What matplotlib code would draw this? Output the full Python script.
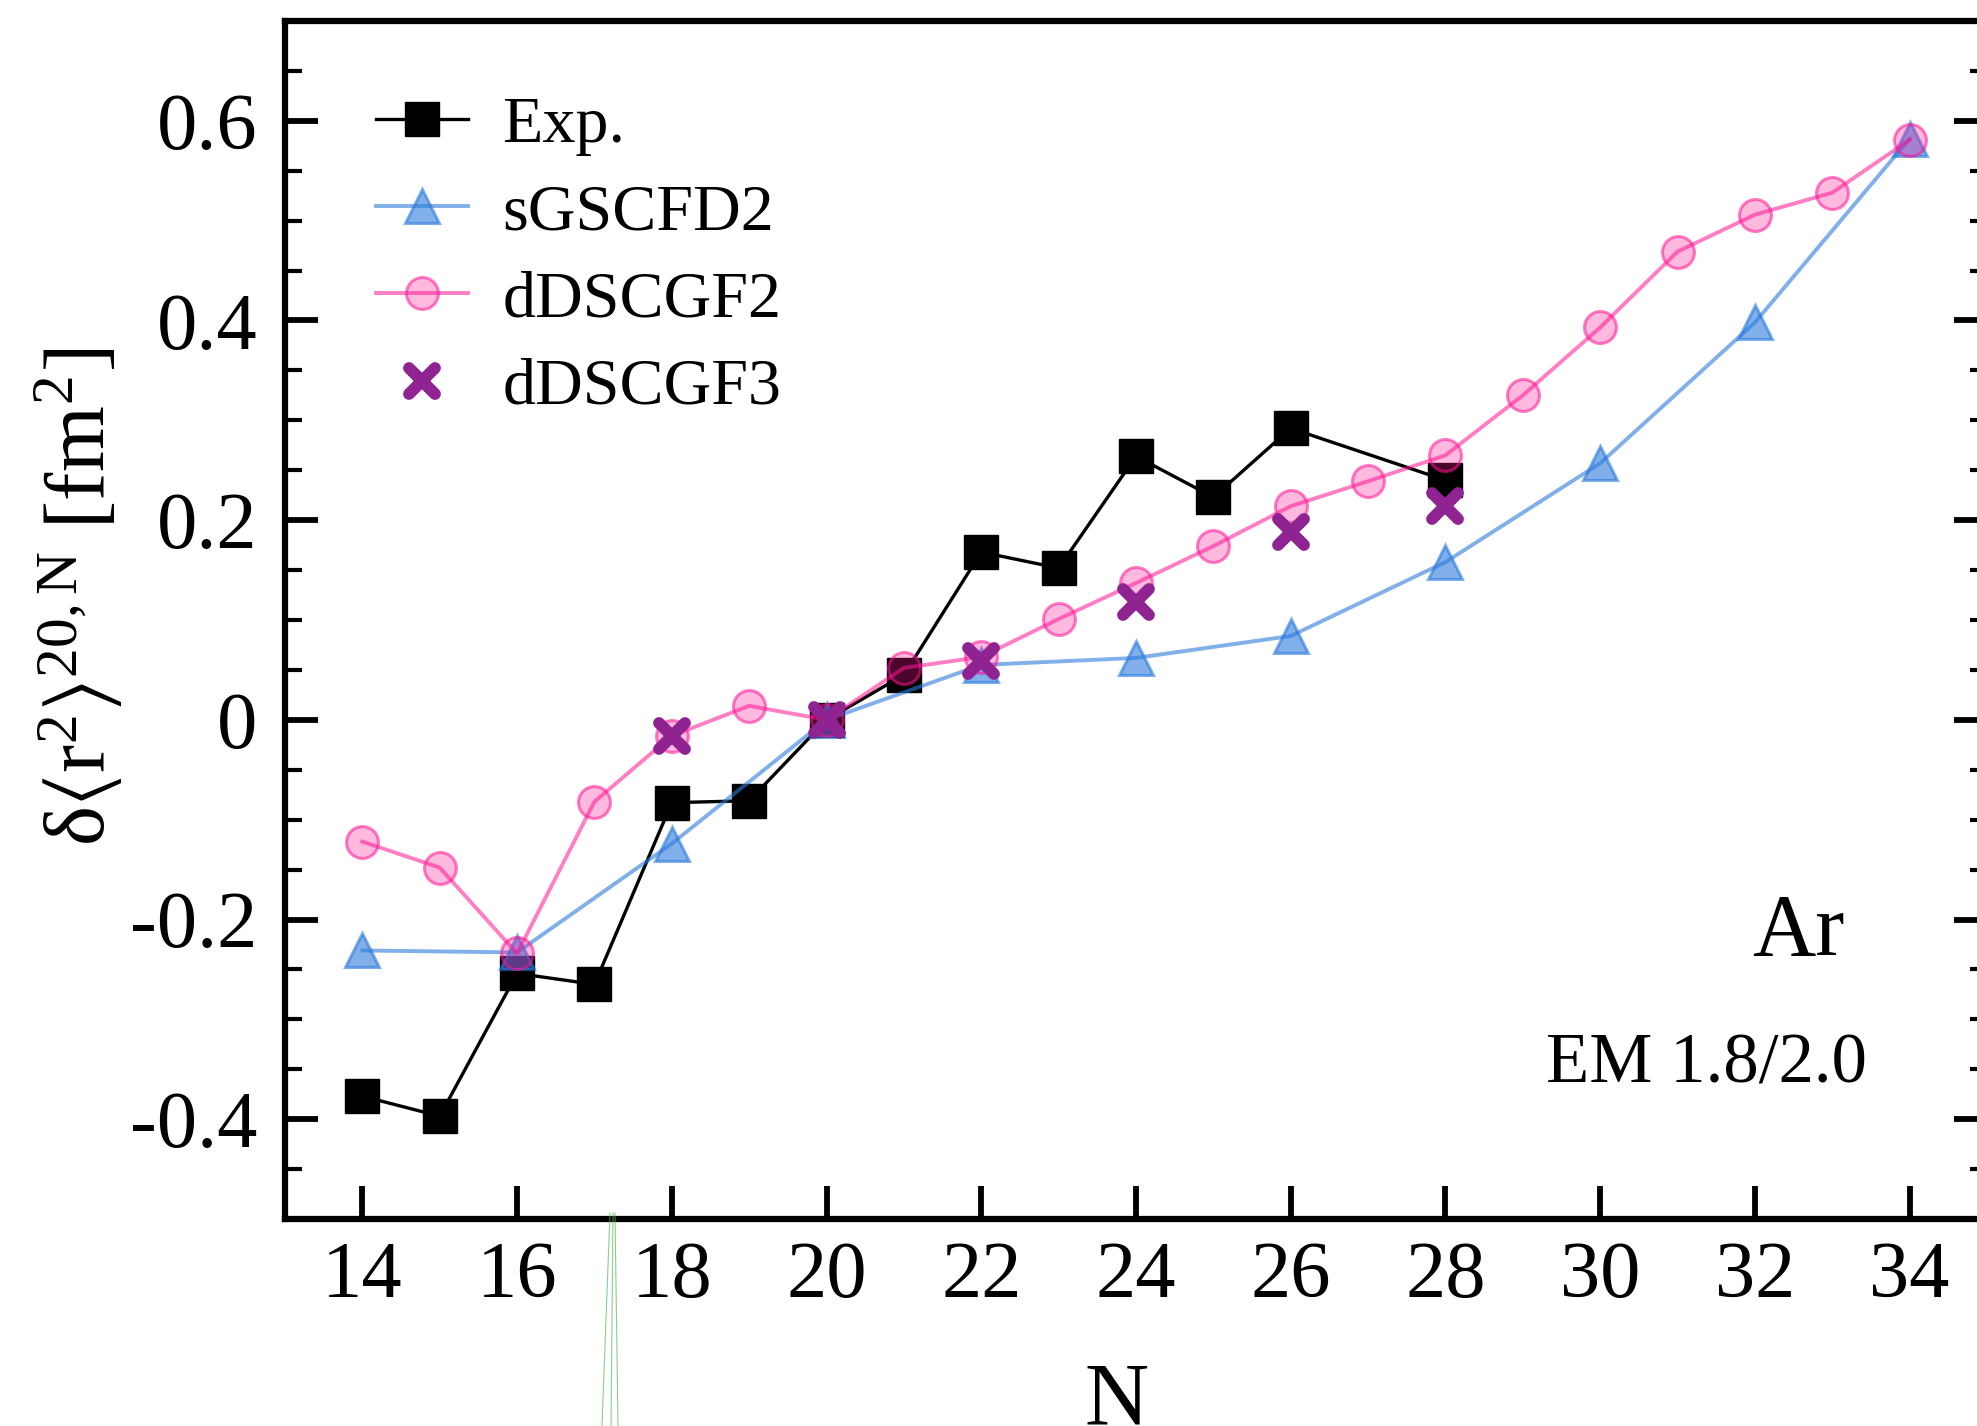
import matplotlib
matplotlib.use("Agg")
import matplotlib.pyplot as plt
from matplotlib.lines import Line2D
from matplotlib.markers import MarkerStyle
from matplotlib.ticker import MultipleLocator, FixedLocator, FuncFormatter

plt.rcParams['font.family'] = ['Liberation Serif', 'DejaVu Serif']
plt.rcParams['mathtext.fontset'] = 'stix'
plt.rcParams['axes.unicode_minus'] = False

# Neutron numbers and charge-radius differences relative to N = 20
N_exp = [14, 15, 16, 17, 18, 19, 20, 21, 22, 23, 24, 25, 26, 28]
exp_vals = [-0.377, -0.397, -0.254, -0.265, -0.083, -0.081, 0.0, 0.045,
            0.168, 0.152, 0.264, 0.223, 0.292, 0.240]

N_sgs = [14, 16, 18, 20, 22, 24, 26, 28, 30, 32, 34]
sgs_vals = [-0.231, -0.233, -0.124, 0.0, 0.055, 0.062, 0.084, 0.158,
            0.257, 0.398, 0.582]

N_d2 = [14, 15, 16, 17, 18, 19, 20, 21, 22, 23, 24, 25, 26, 27, 28, 29,
        30, 31, 32, 33, 34]
d2_vals = [-0.122, -0.148, -0.234, -0.082, -0.016, 0.014, 0.0, 0.052,
           0.063, 0.101, 0.137, 0.174, 0.214, 0.239, 0.265, 0.325, 0.393,
           0.469, 0.506, 0.528, 0.581]

N_d3 = [18, 20, 22, 24, 26, 28]
d3_vals = [-0.016, 0.0, 0.059, 0.118, 0.188, 0.214]

x_ticks = [14, 16, 18, 20, 22, 24, 26, 28, 30, 32, 34]
y_ticks = [-0.4, -0.2, 0.0, 0.2, 0.4, 0.6]

W, H = 1977, 1426
fig = plt.figure(figsize=(W / 100, H / 100), dpi=100)
ax = fig.add_axes([285 / W, (H - 1219) / H, (1987 - 285) / W, (1219 - 21) / H])

blue = (0.17, 0.48, 0.86)
pink = (1.0, 0.08, 0.58)
purple = '#8f2391'

ax.plot(N_exp, exp_vals, color='black', lw=2.4, marker='s', ms=25,
        mfc='black', mec='black', label='Exp.', zorder=3)
ax.plot(N_sgs, sgs_vals, color=blue + (0.6,), lw=2.8, marker='^', ms=24,
        mfc=blue + (0.6,), mec=blue + (0.6,), mew=2.2, label='sGSCFD2', zorder=4)
ax.plot(N_d2, d2_vals, color=pink + (0.55,), lw=2.8, marker='o', ms=23,
        mfc=pink + (0.3,), mec=pink + (0.55,), mew=2.2, label='dDSCGF2', zorder=5)
ax.plot(N_d3, d3_vals, ls='none', marker=MarkerStyle('x', capstyle='round'),
        ms=19, mew=8.5, color=purple, mec=purple, label='dDSCGF3', zorder=6)

ax.set_xlim(13, 35)
ax.set_ylim(-0.5, 0.7)
ax.xaxis.set_major_locator(FixedLocator(x_ticks))
ax.yaxis.set_major_locator(FixedLocator(y_ticks))
ax.yaxis.set_minor_locator(MultipleLocator(0.05))
ax.yaxis.set_major_formatter(FuncFormatter(lambda v, p: '%g' % round(v, 3)))

for s in ax.spines.values():
    s.set_linewidth(4.5)
ax.tick_params(axis='both', which='major', direction='in', length=24,
               width=4.2, labelsize=58)
ax.tick_params(axis='y', which='both', direction='in', left=True, right=True)
ax.tick_params(axis='y', which='minor', length=12, width=3)
ax.tick_params(axis='x', which='both', top=False, bottom=True, pad=16)
ax.tick_params(axis='y', which='major', pad=20)

leg = ax.legend(loc='upper left', bbox_to_anchor=(0.0533, 0.9375), frameon=False,
                fontsize=47.5, handlelength=1.4, handletextpad=0.52,
                labelspacing=0.41, borderaxespad=0, borderpad=0)

ax.text(32.565, -0.2358, 'Ar', fontsize=63, ha='center', va='baseline')
ax.text(31.376, -0.3636, 'EM 1.8/2.0', fontsize=51, ha='center', va='baseline')

fig.text(1117 / W, 3 / H, 'N', fontsize=64, ha='center', va='baseline')
fig.text(79 / W, 1 - 597 / H,
         r'$\mathregular{\delta\langle r^2\rangle^{20,N}}$ [fm$^\mathregular{2}$]',
         fontsize=61, rotation=90, ha='center', va='center')

# thin green strands below the axis
for x0, x1 in [(610, 602), (613, 611), (615, 618)]:
    fig.add_artist(Line2D([x0 / W, x1 / W], [1 - 1213 / H, 0],
                          transform=fig.transFigure, color='#5cb85c',
                          lw=0.8, alpha=0.7))

fig.savefig('out.png', dpi=100)
